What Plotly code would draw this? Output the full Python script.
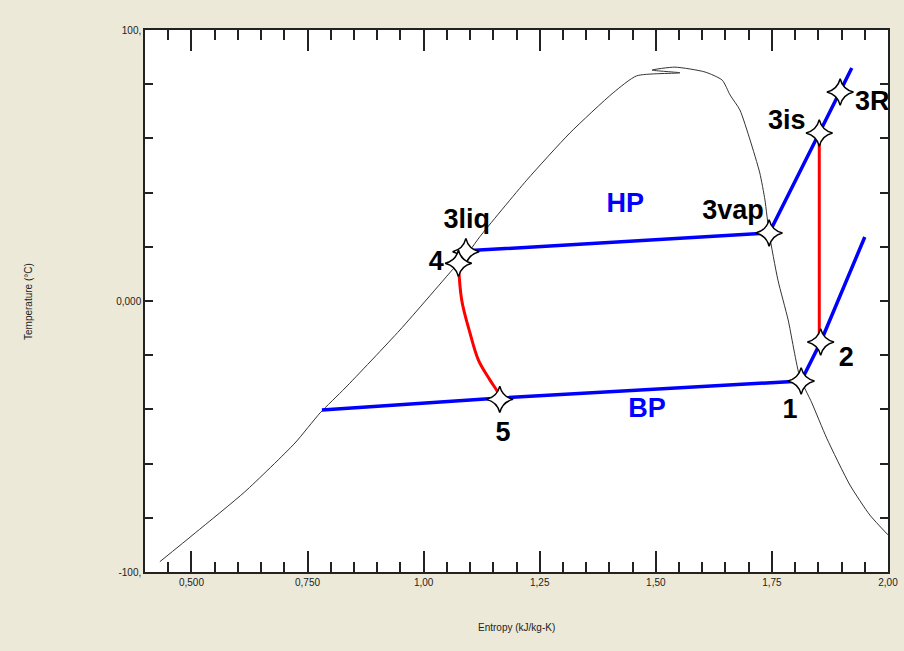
import plotly.graph_objects as go

# Saturation dome (entropy kJ/kg-K, temperature °C)
dome_s = [0.432, 0.508, 0.615, 0.723, 0.777, 0.831, 0.949, 1.071, 1.100, 1.121, 1.222,
          1.315, 1.408, 1.459, 1.552, 1.492, 1.541, 1.606, 1.643, 1.660, 1.681, 1.703,
          1.724, 1.735, 1.744, 1.763, 1.785, 1.810, 1.836, 1.868, 1.918, 1.961, 2.000]
dome_T = [-96.2, -85.6, -70.4, -52.4, -41.3, -32.1, -10.7, 13.3, 18.8, 23.7, 44.6,
          62.0, 76.8, 83.1, 84.2, 85.2, 86.3, 84.5, 81.5, 76.0, 70.5, 59.4,
          47.2, 37.3, 25.1, 7.7, -7.0, -28.0, -37.6, -50.6, -67.9, -79.0, -86.3]

# High pressure line (3liq -> 3vap -> 3is -> 3R -> end)
hp_s = [1.091, 1.744, 1.852, 1.897, 1.922]
hp_T = [18.5, 25.1, 62.0, 77.1, 86.0]

# Low pressure line (start -> 5 -> 1 -> 2 -> end)
bp_s = [0.781, 1.164, 1.813, 1.855, 1.950]
bp_T = [-40.2, -35.8, -29.5, -15.1, 23.6]

# Compression (2 -> 3is)
comp_s = [1.852, 1.852]
comp_T = [-15.1, 62.0]

# Expansion (4 -> 5)
exp_s = [1.075, 1.082, 1.100, 1.118, 1.143, 1.161, 1.164]
exp_T = [13.9, 0.4, -11.9, -21.8, -29.2, -34.1, -36.3]

# State points
pt_names = ["1", "2", "3is", "3R", "3vap", "3liq", "4", "5"]
pt_s = [1.813, 1.855, 1.852, 1.897, 1.744, 1.091, 1.075, 1.164]
pt_T = [-29.5, -15.1, 62.0, 77.1, 25.1, 18.2, 13.9, -36.3]

# Labels
lab_text = ["3R", "3is", "3vap", "HP", "3liq", "4", "BP", "5", "1", "2"]
lab_s = [1.966, 1.782, 1.666, 1.434, 1.093, 1.027, 1.481, 1.171, 1.789, 1.910]
lab_T = [73.1, 66.1, 32.8, 35.4, 29.5, 13.8, -40.2, -49.1, -40.6, -21.6]
lab_color = ["black", "black", "black", "blue", "black", "black", "blue", "black", "black", "black"]

x_tickvals = [0.5, 0.75, 1.0, 1.25, 1.5, 1.75, 2.0]
x_ticktext = ["0,500", "0,750", "1,00", "1,25", "1,50", "1,75", "2,00"]
y_tickvals = [-100, 0, 100]
y_ticktext = ["-100,", "0,000", "100,"]

fig = go.Figure()
fig.add_trace(go.Scatter(x=dome_s, y=dome_T, mode="lines",
                         line=dict(color="#333333", width=1, shape="spline", smoothing=0.6),
                         hoverinfo="skip"))
fig.add_trace(go.Scatter(x=hp_s, y=hp_T, mode="lines", line=dict(color="#0000FF", width=3.5)))
fig.add_trace(go.Scatter(x=bp_s, y=bp_T, mode="lines", line=dict(color="#0000FF", width=3.5)))
fig.add_trace(go.Scatter(x=comp_s, y=comp_T, mode="lines", line=dict(color="#FF0000", width=3)))
fig.add_trace(go.Scatter(x=exp_s, y=exp_T, mode="lines", line=dict(color="#FF0000", width=3, shape="spline")))
fig.add_trace(go.Scatter(x=pt_s, y=pt_T, mode="markers", text=pt_names,
                         marker=dict(symbol="star-diamond", size=19, color="white",
                                     line=dict(color="black", width=1.5))))
fig.add_trace(go.Scatter(x=lab_s, y=lab_T, mode="text", text=lab_text, cliponaxis=False,
                         textfont=dict(family="Liberation Sans", size=27, color=lab_color),
                         texttemplate="<b>%{text}</b>"))

axis_common = dict(showline=True, linecolor="#222222", linewidth=1.5, mirror="ticks",
                   showgrid=False, zeroline=False, ticks="inside", tickcolor="#222222",
                   automargin=False,
                   tickfont=dict(family="Liberation Sans", size=10, color="#222222"))

fig.update_layout(
    width=904, height=651, autosize=False,
    paper_bgcolor="#ECE9D8", plot_bgcolor="white",
    margin=dict(l=145, r=16, t=30, b=79),
    showlegend=False,
    xaxis=dict(range=[0.4, 2.0], tickvals=x_tickvals, ticktext=x_ticktext,
               ticklen=21, tickwidth=1.5,
               minor=dict(tick0=0.0, dtick=0.05, ticks="inside", ticklen=10,
                          tickcolor="#222222", tickwidth=1.5),
               **axis_common),
    yaxis=dict(range=[-100, 100], tickvals=y_tickvals, ticktext=y_ticktext,
               ticklen=8, tickwidth=1.5,
               minor=dict(tick0=0, dtick=20, ticks="inside", ticklen=8,
                          tickcolor="#222222", tickwidth=1.5),
               **axis_common),
    annotations=[
        dict(text="Entropy (kJ/kg-K)", xref="paper", yref="paper", x=0.5, y=-0.103,
             xanchor="center", yanchor="middle", showarrow=False,
             font=dict(family="Liberation Sans", size=10, color="#222222")),
        dict(text="Temperature (°C)", xref="paper", yref="paper", x=-0.1575, y=0.5,
             xanchor="center", yanchor="middle", textangle=-90, showarrow=False,
             font=dict(family="Liberation Sans", size=10, color="#222222")),
    ],
)

fig.write_html("out.html", config={"displayModeBar": False},
               post_script="document.body.style.margin='0';document.body.style.background='#ECE9D8';")
